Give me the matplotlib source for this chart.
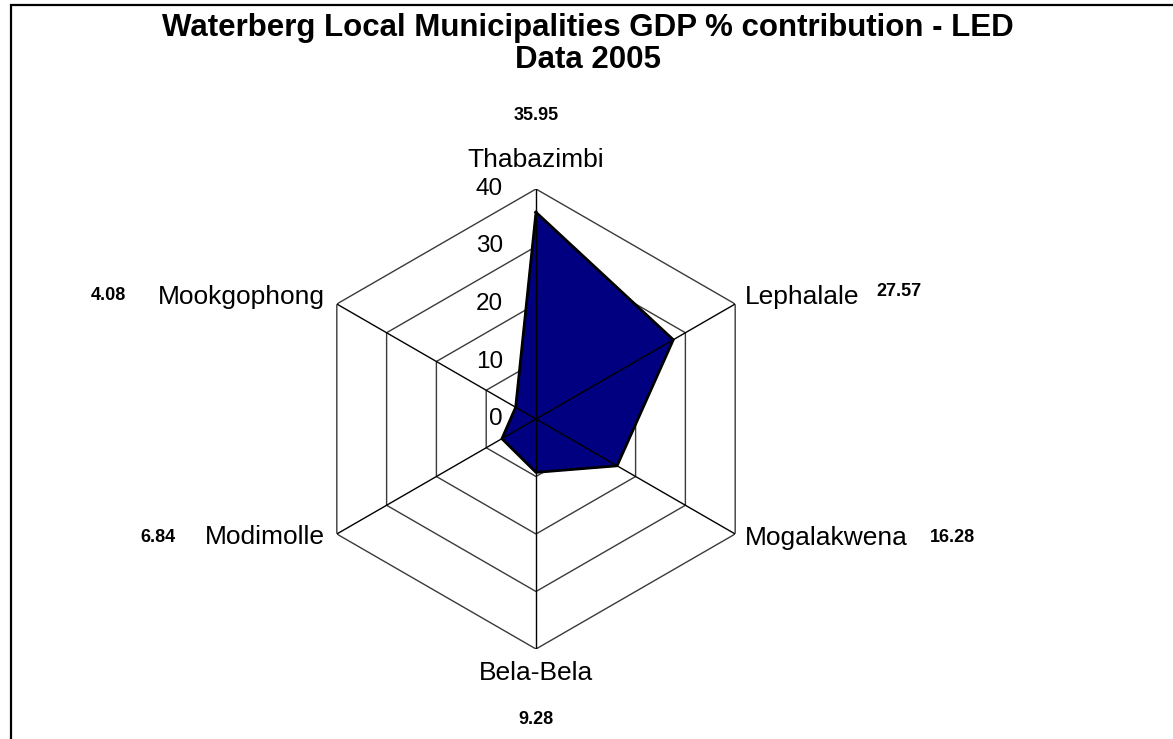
import numpy as np
import matplotlib
matplotlib.use('agg')
import matplotlib.pyplot as plt
from matplotlib.patches import Rectangle

# GDP % contribution per local municipality (LED data 2005)
municipalities = ['Thabazimbi', 'Lephalale', 'Mogalakwena', 'Bela-Bela', 'Modimolle', 'Mookgophong']
gdpShare = [35.95, 27.57, 16.28, 9.28, 6.84, 4.08]
ringValues = [0, 10, 20, 30, 40]
rMax = 40

plt.rcParams['font.family'] = ['Liberation Sans', 'DejaVu Sans']

fig = plt.figure(figsize=(11.73, 7.39), dpi=100)
fig.patch.set_facecolor('white')

# chart border (runs past right and bottom edge)
fig.add_artist(Rectangle((11 / 1173, -0.2), 1.5, 1.2 - 5 / 739, transform=fig.transFigure,
                         fill=False, edgecolor='black', linewidth=1.6))

W, H = 1173.0, 739.0
cx, cy, rad = 536.0, 419.0, 230.0
ax = fig.add_axes([(cx - rad) / W, (H - cy - rad) / H, 2 * rad / W, 2 * rad / H], projection='polar')
ax.set_theta_zero_location('N')
ax.set_theta_direction(-1)
ax.set_ylim(0, rMax)
ax.grid(False)
ax.set_xticks([])
ax.set_yticks([])
ax.spines['polar'].set_visible(False)
ax.patch.set_alpha(0)

n = len(municipalities)
angles = np.arange(n) * 2 * np.pi / n
closedAngles = np.append(angles, angles[0])

# hexagonal rings
for rv in ringValues[1:]:
    ax.plot(closedAngles, [rv] * (n + 1), color='#3a3a3a', linewidth=1.0, zorder=1)

# data polygon
vals = gdpShare + [gdpShare[0]]
ax.fill(closedAngles, vals, color='#000080', zorder=2)
ax.plot(closedAngles, vals, color='black', linewidth=2.0, zorder=3)

# spokes drawn over the fill
for a in angles:
    ax.plot([a, a], [0, rMax], color='black', linewidth=1.0, zorder=4)

# value axis labels
for rv in ringValues:
    ax.annotate(str(rv), xy=(0, rv), xytext=(-33, 0), textcoords='offset pixels',
                ha='right', va='center', fontsize=17.5, zorder=5)

# category labels
catOffsets = [(0, 29), (10, 7), (10, -4), (0, -24), (-12, -3), (-12, 7)]
catAlign = ['center', 'left', 'left', 'center', 'right', 'right']
for a, name, off, ha in zip(angles, municipalities, catOffsets, catAlign):
    ax.annotate(name, xy=(a, rMax), xytext=off, textcoords='offset pixels',
                ha=ha, va='center', fontsize=19, annotation_clip=False)

# data labels
valOffsets = [(0, 73), (164, 13), (217, -3), (0, -71), (-179, -3), (-228, 9)]
for a, v, off in zip(angles, gdpShare, valOffsets):
    ax.annotate('%.2f' % v, xy=(a, rMax), xytext=off, textcoords='offset pixels',
                ha='center', va='center', fontsize=13, fontweight='bold', annotation_clip=False)

fig.text(588 / W, 1 - 44 / H, 'Waterberg Local Municipalities GDP % contribution - LED\nData 2005',
         ha='center', va='center', fontsize=22.5, fontweight='bold', linespacing=1.08)

fig.savefig('out.png', dpi=100, facecolor='white')
